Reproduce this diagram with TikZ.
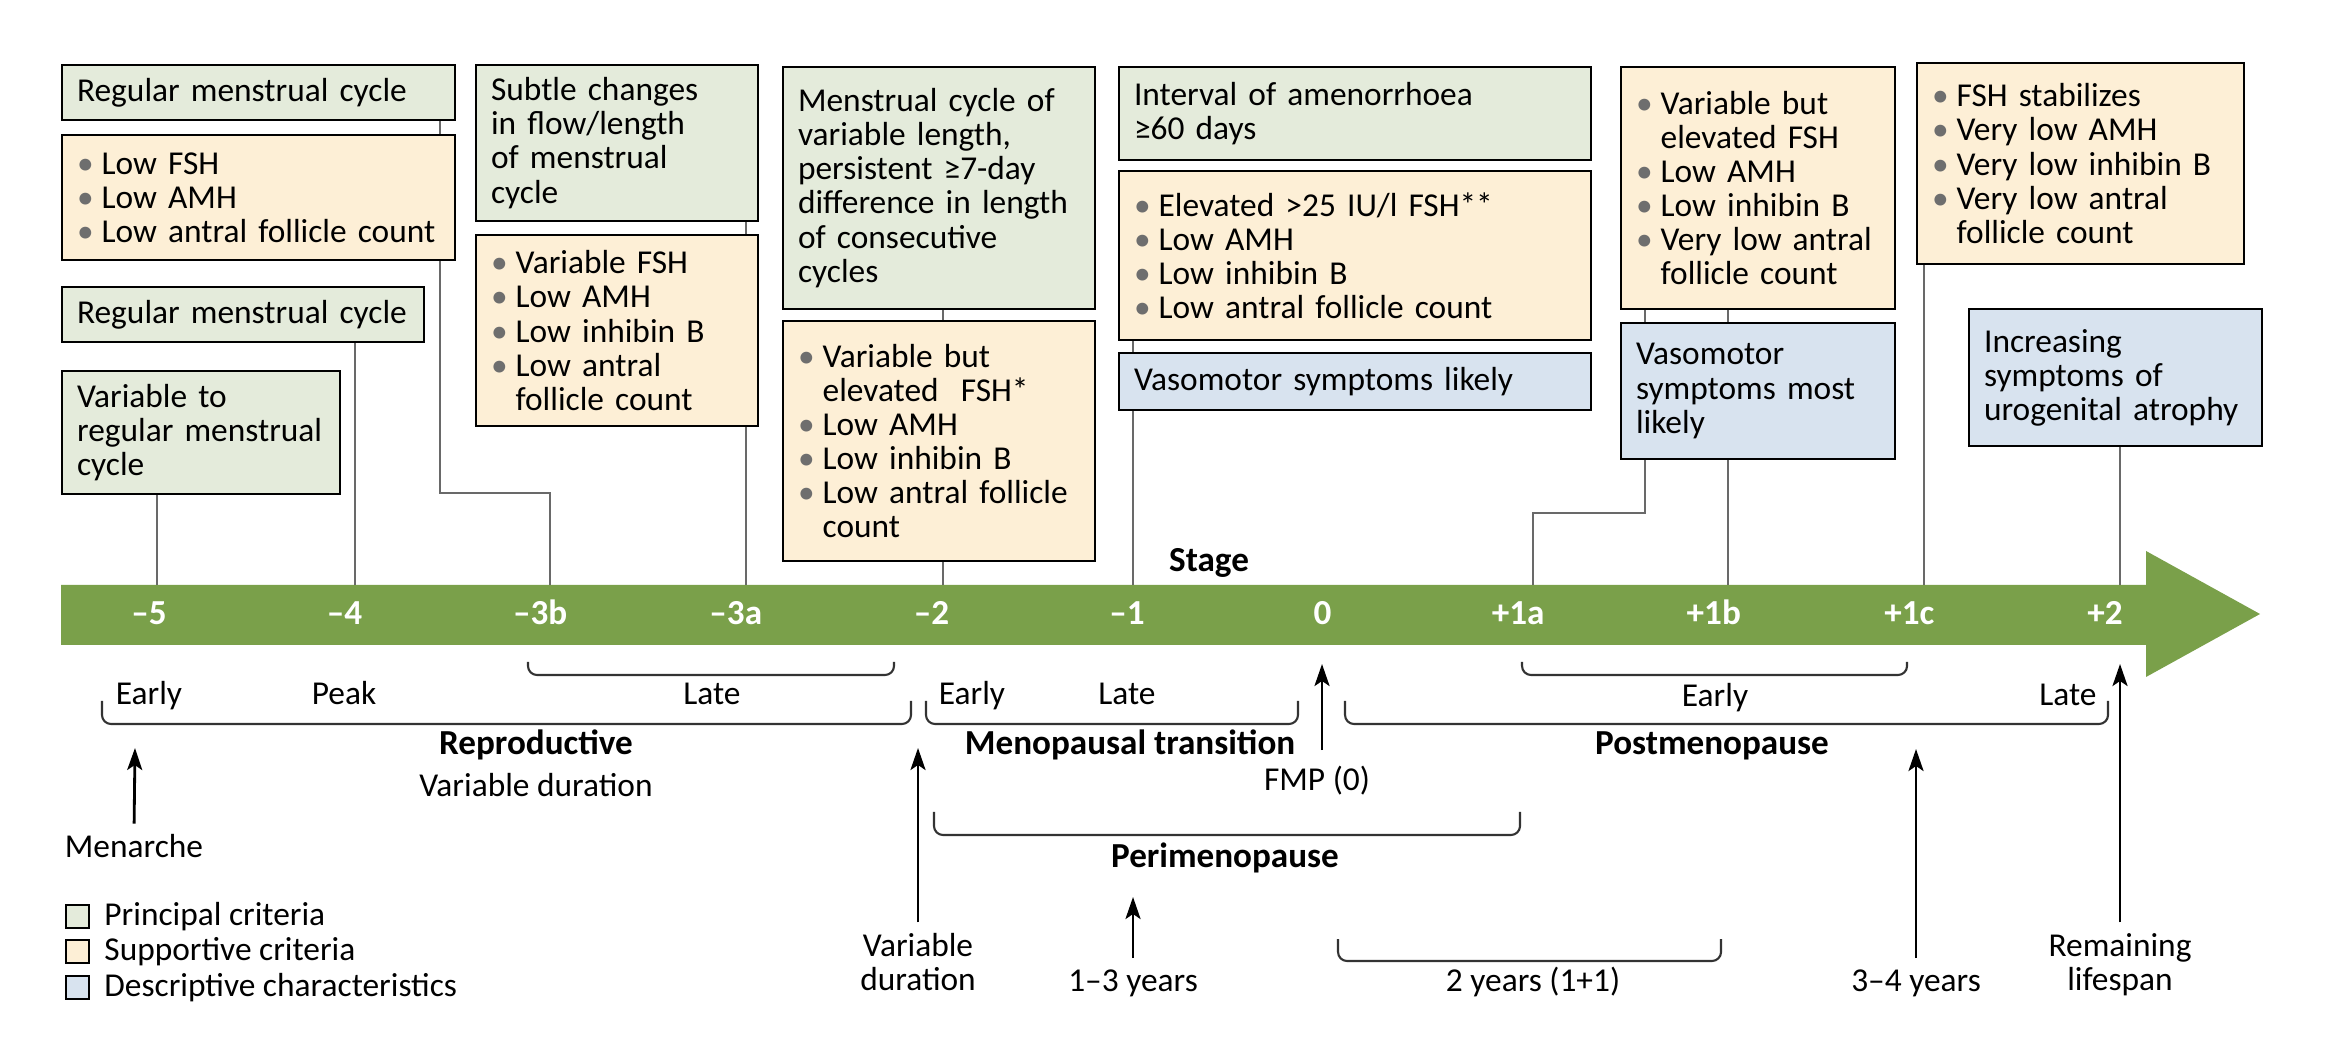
\documentclass[tikz,border=0pt]{standalone}
\usepackage{fontspec}
\setmainfont{Carlito}
\usetikzlibrary{arrows.meta,positioning,calc}
\definecolor{bargreen}{RGB}{122,160,74}
\definecolor{princ}{RGB}{228,235,219}
\definecolor{supp}{RGB}{253,239,214}
\definecolor{descr}{RGB}{216,227,239}
\definecolor{bulgray}{RGB}{110,110,110}
\definecolor{linegray}{RGB}{105,105,105}
\newcommand{\bul}{\makebox[7pt][l]{\textcolor{bulgray}{\textbullet}}}
\newcommand{\cont}{\hspace*{7pt}}

\begin{document}
\begin{tikzpicture}[x=0.1mm,y=-0.1mm,
  box/.style={draw=black,line width=0.6pt,anchor=north west,align=left,inner xsep=1.5mm,inner ysep=0pt,font=\fontsize{9.5pt}{9.7pt}\selectfont},
  principal/.style={box,fill=princ},
  supportive/.style={box,fill=supp},
  descriptive/.style={box,fill=descr},
  conn/.style={draw=linegray,line width=0.5pt},
  brace/.style={draw=black!80,line width=0.6pt,rounded corners=0.9mm},
  lab/.style={inner sep=0pt,font=\fontsize{9.5pt}{9.7pt}\selectfont},
  bold/.style={inner sep=0pt,font=\fontsize{10pt}{11pt}\selectfont\bfseries},
  barlab/.style={bold,text=white,anchor=base},
  uparrow/.style={-{Stealth[length=2.2mm,width=1.5mm,inset=0.5mm]},line width=0.8pt,shorten <=3pt},
  legkey/.style={draw=black,line width=0.5pt,minimum size=2.3mm,inner sep=0pt,anchor=north west}]
\useasboundingbox (0,0) rectangle (2340,1054);

\node[principal,text width=36.3mm,minimum height=5.5mm] (a1) at (61,64) {Regular menstrual cycle};
\node[supportive,text width=36.3mm,minimum height=12.5mm] (a2) at (61,134) {\bul Low FSH\\\bul Low AMH\\\bul Low antral follicle count};
\node[principal,text width=33.2mm,minimum height=5.5mm] (b1) at (61,286) {Regular menstrual cycle};
\node[principal,text width=24.8mm,minimum height=12.3mm] (c1) at (61,370) {Variable to\\regular menstrual\\cycle};
\node[principal,text width=25.2mm,minimum height=15.6mm] (d1) at (475,64) {Subtle changes\\in flow/length\\of menstrual\\cycle};
\node[supportive,text width=25.2mm,minimum height=19.1mm] (d2) at (475,234) {\bul Variable FSH\\\bul Low AMH\\\bul Low inhibin B\\\bul Low antral\\\cont follicle count};
\node[principal,text width=28.2mm,minimum height=24.2mm] (e1) at (782,66) {Menstrual cycle of\\variable length,\\persistent ≥7-day\\difference in length\\of consecutive\\cycles};
\node[supportive,text width=28.2mm,minimum height=24mm] (e2) at (782,320) {\bul Variable but\\\cont elevated~~FSH*\\\bul Low AMH\\\bul Low inhibin B\\\bul Low antral follicle\\\cont count};
\node[principal,text width=44.2mm,minimum height=9.3mm] (f1) at (1118,66) {Interval of amenorrhoea\\≥60 days};
\node[supportive,text width=44.2mm,minimum height=16.9mm] (f2) at (1118,170) {\bul Elevated >25 IU/l FSH**\\\bul Low AMH\\\bul Low inhibin B\\\bul Low antral follicle count};
\node[descriptive,text width=44.2mm,minimum height=5.7mm] (f3) at (1118,352) {Vasomotor symptoms likely};
\node[supportive,text width=24.4mm,minimum height=24.2mm] (g1) at (1620,66) {\bul Variable but\\\cont elevated FSH\\\bul Low AMH\\\bul Low inhibin B\\\bul Very low antral\\\cont follicle count};
\node[descriptive,text width=24.4mm,minimum height=13.6mm] (g2) at (1620,322) {Vasomotor\\symptoms most\\likely};
\node[supportive,text width=29.7mm,minimum height=20.1mm] (h1) at (1916,62) {\bul FSH stabilizes\\\bul Very low AMH\\\bul Very low inhibin B\\\bul Very low antral\\\cont follicle count};
\node[descriptive,text width=26.3mm,minimum height=13.7mm] (i1) at (1968,308) {Increasing\\symptoms of\\urogenital atrophy};

\fill[bargreen] (61,585) -- (2146,585) -- (2146,551) -- (2260,614) -- (2146,677) -- (2146,645) -- (61,645) -- cycle;
\coordinate (t5) at (157,585);
\coordinate (t4) at (355,585);
\coordinate (t3b) at (550,585);
\coordinate (t3a) at (746,585);
\coordinate (t2) at (943,585);
\coordinate (t1) at (1133,585);
\coordinate (t1a) at (1533,585);
\coordinate (t1b) at (1728,585);
\coordinate (t1c) at (1924,585);
\coordinate (tp2) at (2120,585);
\foreach \lab [count=\i from 0] in {\textendash5,\textendash4,\textendash3b,\textendash3a,\textendash2,\textendash1,0,+1a,+1b,+1c,+2}
  \node[barlab] (s\i) at (149+195.6*\i,625) {\lab};
\node[bold,anchor=base] (stage) at (1209,572) {Stage};

\draw[conn] ($(a1.south east)+(-16,0)$) -- ($(a2.north east)+(-16,0)$);
\draw[conn] ($(a2.south east)+(-16,0)$) |- ($(t3b)+(0,-92)$) -- (t3b);
\draw[conn] (b1.south -| t4) -- (t4);
\draw[conn] (c1.south -| t5) -- (t5);
\draw[conn] (d1.south -| t3a) -- (d2.north -| t3a);
\draw[conn] (d2.south -| t3a) -- (t3a);
\draw[conn] (e1.south -| t2) -- (e2.north -| t2);
\draw[conn] (e2.south -| t2) -- (t2);
\draw[conn] (f2.south -| t1) -- (f3.north -| t1);
\draw[conn] (f3.south -| t1) -- (t1);
\draw[conn] ($(g1.south west)+(25,0)$) -- ($(g2.north west)+(25,0)$);
\draw[conn] ($(g2.south west)+(25,0)$) |- ($(t1a)+(0,-72)$) -- (t1a);
\draw[conn] (g1.south -| t1b) -- (g2.north -| t1b);
\draw[conn] (g2.south -| t1b) -- (t1b);
\draw[conn] (h1.south -| t1c) -- (t1c);
\draw[conn] (i1.south -| tp2) -- (tp2);

\draw[brace] (528,662) |- (894,675) -- (894,662);
\draw[brace] (1522,662) |- (1907,675) -- (1907,662);
\draw[brace] (102,701) |- (911,724) -- (911,701);
\draw[brace] (926,701) |- (1298,724) -- (1298,701);
\draw[brace] (1345,701) |- (2108,724) -- (2108,701);
\draw[brace] (934,812) |- (1520,835) -- (1520,812);
\draw[brace] (1338,939) |- (1721,961) -- (1721,939);

\node[lab,anchor=base] (rep-early) at (149,705) {Early};
\node[lab,anchor=base] (rep-peak) at (344,705) {Peak};
\node[lab,anchor=base] (rep-late) at (712,705) {Late};
\node[lab,anchor=base] (mt-early) at (972,705) {Early};
\node[lab,anchor=base] (mt-late) at (1127,705) {Late};
\node[lab,anchor=base] (pm-early) at (1715,707) {Early};
\node[lab,anchor=base] (pm-late) at (2068,706) {Late};
\node[bold,anchor=base] (repro) at (536,755) {Reproductive};
\node[bold,anchor=base] (trans) at (1130,755) {Menopausal transition};
\node[bold,anchor=base] (post) at (1712,755) {Postmenopause};
\node[bold,anchor=base] (peri) at (1225,868) {Perimenopause};
\node[lab,anchor=base] (repdur) at (536,797) {Variable duration};

\coordinate (mtip) at (135,748);
\coordinate (vtip) at (918,748);
\coordinate (ytip) at (1133,897);
\coordinate (ftip) at (1322,664);
\coordinate (ptip) at (1916,749);
\coordinate (ltip) at (2120,664);
\node[lab,anchor=base] (menarche) at (134,858) {Menarche};
\node[lab,anchor=north,align=center] (vardur) at (918,933) {Variable\\duration};
\node[lab,anchor=base] (yrs13) at (1133,991) {1\textendash3 years};
\node[lab,anchor=base] (fmp) at (1317,791) {FMP (0)};
\node[lab,anchor=base] (yrs2) at (1533,991) {2 years (1+1)};
\node[lab,anchor=base] (yrs34) at (1916,991) {3\textendash4 years};
\node[lab,anchor=north,align=center] (life) at (2120,933) {Remaining\\lifespan};
\draw[uparrow] (menarche.north) -- (mtip);
\draw[uparrow] (vardur.north) -- (vtip);
\draw[uparrow] (yrs13.north) -- (ytip);
\draw[uparrow,shorten <=4.5pt] (fmp.north -| ftip) -- (ftip);
\draw[uparrow] (yrs34.north) -- (ptip);
\draw[uparrow] (life.north) -- (ltip);

\node[legkey,fill=princ] (k1) at (65,904) {};
\node[legkey,fill=supp] (k2) at (65,939) {};
\node[legkey,fill=descr] (k3) at (65,975) {};
\node[lab,right=1.4mm of k1] (l1) {Principal criteria};
\node[lab,right=1.4mm of k2] (l2) {Supportive criteria};
\node[lab,right=1.4mm of k3] (l3) {Descriptive characteristics};
\end{tikzpicture}
\end{document}
